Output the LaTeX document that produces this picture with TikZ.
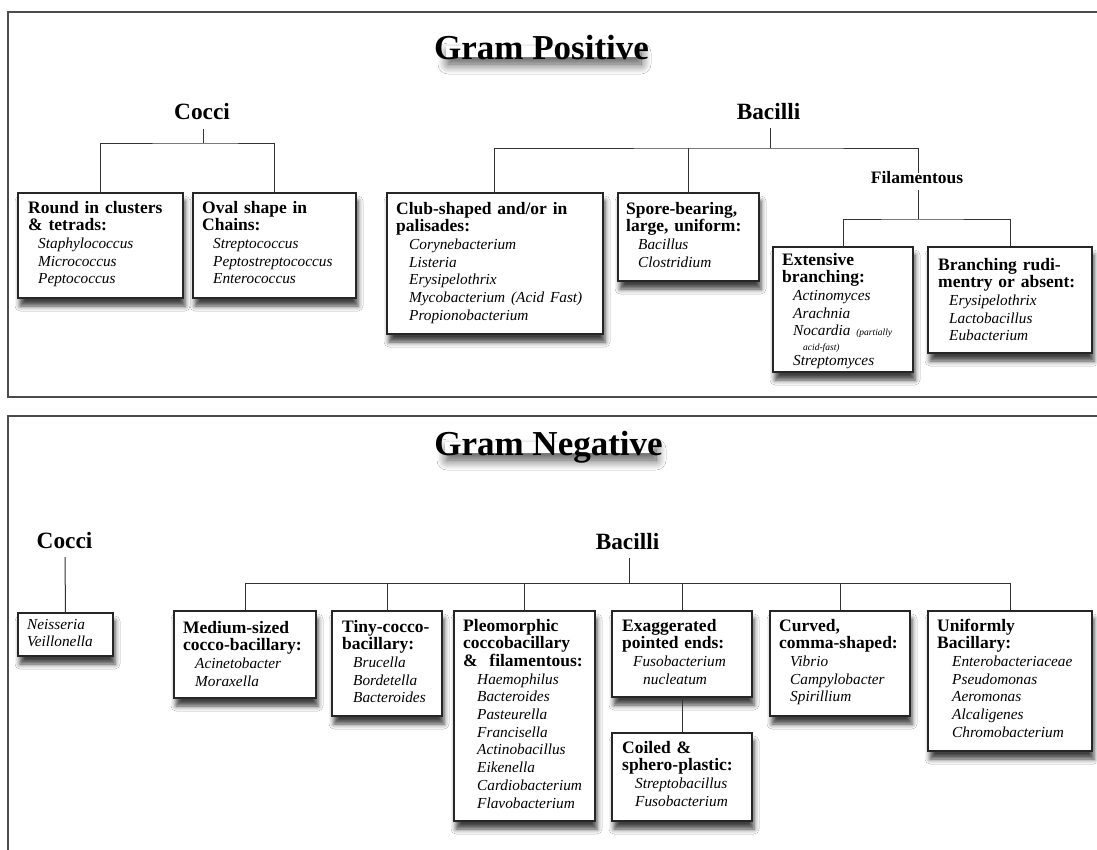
\documentclass[tikz,border=0pt]{standalone}
\usepackage{fontspec}
\setmainfont{Liberation Serif}
\usetikzlibrary{shadows.blur}
\newcommand{\org}[2][11pt]{\hspace*{#1}{\fontsize{15.3}{17.7}\selectfont\mdseries\itshape #2}}
\newcommand{\smallit}[1]{{\fontsize{9.5}{10}\selectfont\mdseries\itshape #1}}
\newcommand{\hd}{\fontsize{17.5}{17.7}\selectfont\bfseries}
\tikzset{
  panel/.style={draw=black!70, line width=1.6pt},
  conn/.style={draw=black!80, line width=1pt},
  catbox/.style={draw=black!85, line width=1.4pt, fill=white, inner sep=0pt, outer sep=0pt,
    anchor=north west,
    blur shadow={shadow xshift=2pt, shadow yshift=-8pt, shadow blur radius=5pt, shadow opacity=75}},
  boxtext/.style={anchor=base west, inner sep=0pt, text width=220pt, align=left, font=\hd},
  level/.style={anchor=base, inner sep=0pt, font=\fontsize{23.3}{26}\selectfont\bfseries},
  sublevel/.style={anchor=base, inner sep=0pt, font=\fontsize{17.5}{20}\selectfont\bfseries},
  title/.style={anchor=base, inner sep=0pt, font=\fontsize{35}{40}\selectfont\bfseries},
  tshadow/.style={fill=white, draw=none,
    blur shadow={shadow xshift=2pt, shadow yshift=-7pt, shadow blur radius=10pt, shadow opacity=70, shadow blur steps=12}},
}
\begin{document}
\begin{tikzpicture}[x=1pt,y=-1pt]
\useasboundingbox (0,0) rectangle (1097,849);
\fill[white] (0,0) rectangle (1097,849);
% panels
\draw[panel] (1110,12) -- (8,12) -- (8,397) -- (1110,397);
\draw[panel] (1110,416) -- (8,416) -- (8,860);

% ================= GRAM POSITIVE =================
\path[tshadow] (446,46) rectangle (639,57);
\node[title] (gpos) at (541.5,59) {Gram Positive};

\node[level] (pcoc) at (202,119) {Cocci};
\node[level] (pbac) at (768.5,119) {Bacilli};
\node[sublevel] (pfil) at (917,183) {Filamentous};

% boxes
\node[catbox, minimum width=165pt, minimum height=105pt] (b1) at (18,193) {};
\node[catbox, minimum width=163pt, minimum height=105pt] (b2) at (193,193) {};
\node[catbox, minimum width=216pt, minimum height=141pt] (b3) at (387,193) {};
\node[catbox, minimum width=141pt, minimum height=88pt] (b4) at (618,193) {};
\node[catbox, minimum width=140pt, minimum height=125pt] (b5) at (773,247) {};
\node[catbox, minimum width=164pt, minimum height=106pt] (b6) at (928,247) {};

\node[boxtext] (t1) at (28,213) {Round in clusters\\ \& tetrads:\\
  \org[10pt]{Staphylococcus}\\ \org[10pt]{Micrococcus}\\ \org[10pt]{Peptococcus}};
\node[boxtext] (t2) at (202,213) {Oval shape in\\ Chains:\\
  \org{Streptococcus}\\ \org{Peptostreptococcus}\\ \org{Enterococcus}};
\node[boxtext] (t3) at (396,214) {Club-shaped and/or in\\ palisades:\\
  \org[13pt]{Corynebacterium}\\ \org[13pt]{Listeria}\\ \org[13pt]{Erysipelothrix}\\
  \org[13pt]{Mycobacterium (Acid Fast)}\\ \org[13pt]{Propionobacterium}};
\node[boxtext] (t4) at (626,214) {Spore-bearing,\\ large, uniform:\\
  \org[12pt]{Bacillus}\\ \org[12pt]{Clostridium}};
\node[boxtext] (t5) at (782,265) {Extensive\\ branching:\\
  \org{Actinomyces}\\ \org{Arachnia}\\ \org{Nocardia \smallit{(partially}}\\[-2.7pt]
  \hspace*{21pt}\smallit{acid-fast)}\\[-2.7pt] \org{Streptomyces}};
\node[boxtext] (t6) at (938,270) {Branching rudi-\\ mentry or absent:\\
  \org{Erysipelothrix}\\ \org{Lactobacillus}\\ \org{Eubacterium}};

% connectors
\coordinate (pcoct) at (203,129);
\coordinate (pcocj) at (203,143);
\draw[conn] (pcoct) -- (pcocj);
\draw[conn] (b1.north) |- (pcocj) -| (b2.north);

\coordinate (pbact) at (770,128);
\coordinate (pbacj) at (770,148);
\coordinate (b3d) at (494,193);
\coordinate (pfilt) at (918,173);
\coordinate (pfilb) at (918,190);
\coordinate (pfilj) at (918,219);
\draw[conn] (pbact) -- (pbacj);
\draw[conn] (b3d) |- (pbacj) -| (pfilt);
\draw[conn] (b4.north) -- (b4.north |- pbacj);
\draw[conn] (pfilb) -- (pfilj);
\draw[conn] (b5.north) |- (pfilj) -| (b6.north);

% ================= GRAM NEGATIVE =================
\path[tshadow] (445,442) rectangle (654,453);
\node[title] (gneg) at (548.5,455) {Gram Negative};

\node[level] (ncoc) at (64.5,548) {Cocci};
\node[level] (nbac) at (627.5,549) {Bacilli};

\node[catbox, minimum width=95pt, minimum height=43pt] (n0) at (18,613) {};
\node[catbox, minimum width=142pt, minimum height=87pt] (n1) at (174,611) {};
\node[catbox, minimum width=110pt, minimum height=105pt] (n2) at (332,611) {};
\node[catbox, minimum width=141pt, minimum height=210pt] (n3) at (454,611) {};
\node[catbox, minimum width=140pt, minimum height=86pt] (n4) at (612,611) {};
\node[catbox, minimum width=140pt, minimum height=88pt] (n5) at (612,733) {};
\node[catbox, minimum width=140pt, minimum height=105pt] (n6) at (770,611) {};
\node[catbox, minimum width=164pt, minimum height=140pt] (n7) at (928,611) {};

\node[boxtext] (s0) at (27,629) {\org[0pt]{Neisseria}\\[-0.7pt] \org[0pt]{Veillonella}};
\node[boxtext] (s1) at (183,633) {Medium-sized\\ cocco-bacillary:\\
  \org[12pt]{Acinetobacter}\\ \org[12pt]{Moraxella}};
\node[boxtext] (s2) at (342,632) {Tiny-cocco-\\ bacillary:\\
  \org{Brucella}\\ \org{Bordetella}\\ \org{Bacteroides}};
\node[boxtext] (s3) at (463,631) {Pleomorphic\\ coccobacillary\\ \&~ filamentous:\\
  \org[14pt]{Haemophilus}\\ \org[14pt]{Bacteroides}\\ \org[14pt]{Pasteurella}\\
  \org[14pt]{Francisella}\\ \org[14pt]{Actinobacillus}\\ \org[14pt]{Eikenella}\\
  \org[14pt]{Cardiobacterium}\\ \org[14pt]{Flavobacterium}};
\node[boxtext] (s4) at (622,631) {Exaggerated\\ pointed ends:\\
  \org{Fusobacterium}\\ \org[21pt]{nucleatum}};
\node[boxtext] (s5) at (622,753) {Coiled \&\\ sphero-plastic:\\
  \org[13pt]{Streptobacillus}\\ \org[13pt]{Fusobacterium}};
\node[boxtext] (s6) at (779,631) {Curved,\\ comma-shaped:\\
  \org{Vibrio}\\ \org{Campylobacter}\\ \org{Spirillium}};
\node[boxtext] (s7) at (937,631) {Uniformly\\ Bacillary:\\
  \org[15pt]{Enterobacteriaceae}\\ \org[15pt]{Pseudomonas}\\ \org[15pt]{Aeromonas}\\
  \org[15pt]{Alcaligenes}\\ \org[15pt]{Chromobacterium}};

% connectors
\coordinate (ncoct) at (65,557);
\draw[conn] (ncoct) -- (n0.north);
\coordinate (nbact) at (629,558);
\coordinate (nbacj) at (629,583);
\coordinate (n3d) at (524,611);
\draw[conn] (nbact) -- (nbacj);
\draw[conn] (n1.north) |- (nbacj) -| (n7.north);
\draw[conn] (n2.north) -- (n2.north |- nbacj);
\draw[conn] (n3d) -- (n3d |- nbacj);
\draw[conn] (n4.north) -- (n4.north |- nbacj);
\draw[conn] (n6.north) -- (n6.north |- nbacj);
\draw[conn] (n4.south) -- (n5.north);
\end{tikzpicture}
\end{document}
